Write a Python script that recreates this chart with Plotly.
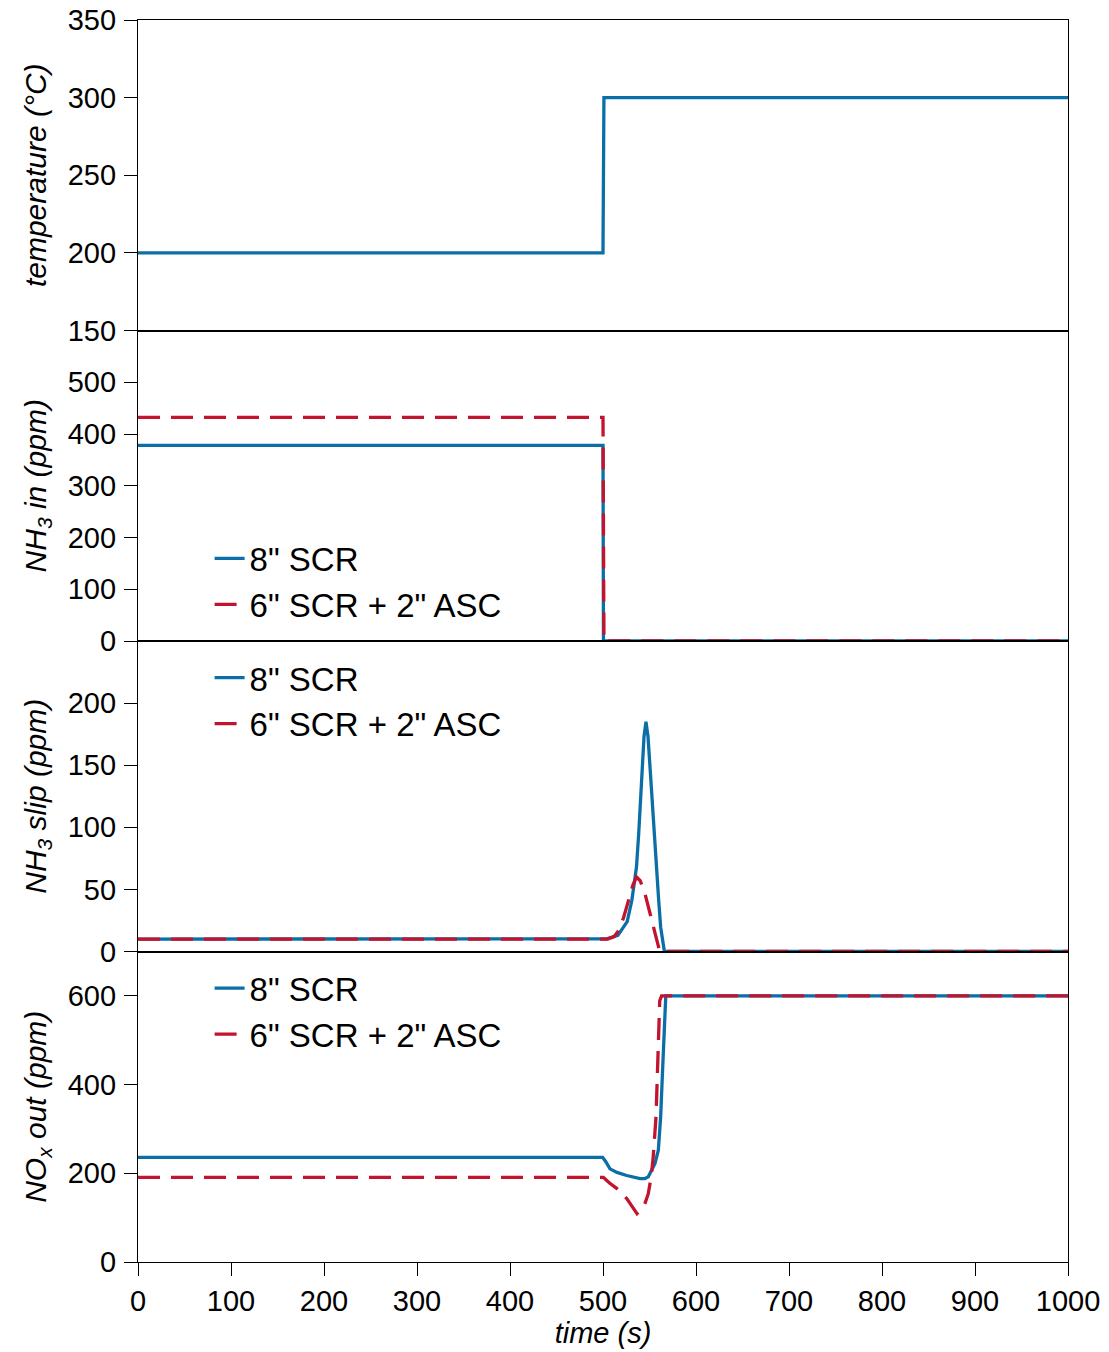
import plotly.graph_objects as go
from plotly.subplots import make_subplots

# ---------------- data ----------------
time_temp = [0, 500, 501, 1000]
temp_scr = [200, 200, 300, 300]

time_nh3in_scr = [0, 500, 500.5, 1000]
nh3in_scr = [378, 378, 0, 0]
time_nh3in_asc = [0, 500, 501, 1000]
nh3in_asc = [432, 432, 0, 0]

time_slip_scr = [0, 500, 504, 516, 522, 526, 531, 533.3, 536, 538.4, 540.5, 542.3, 544.1, 546.2,
                 548.4, 550.5, 552.7, 555.6, 557.7, 559.9, 562, 565, 566, 1000]
slip_scr = [10, 10, 10.2, 13, 19, 24, 41, 55, 68, 95, 122, 149, 173, 185,
            173, 149, 122, 95, 68, 41, 19.6, 2, 0, 0]
time_slip_asc = [0, 505, 512, 517, 522, 527, 532, 536, 540, 545, 550.5, 554, 557.7, 561, 1000]
slip_asc = [10, 10, 12, 17, 27, 41, 53, 60, 57, 47, 30, 20, 9, 0, 0]

time_nox_scr = [0, 499.6, 503, 507.5, 515, 525.5, 539.8, 545, 548.7, 552, 555.9, 559.5, 562,
                564.2, 566, 567.5, 1000]
nox_scr = [236, 236, 226, 210, 202, 195, 188, 188, 192, 205, 222, 252, 327, 439, 551, 600, 600]
time_nox_asc = [0, 500.4, 507, 514.7, 525.5, 536.6, 544, 548.7, 552, 554, 557, 559.5, 561, 563, 1000]
nox_asc = [191, 191, 178, 166, 143, 109, 125, 154, 195, 237, 327, 476, 589, 600, 600]

x_ticks = [0, 100, 200, 300, 400, 500, 600, 700, 800, 900, 1000]
temp_ticks = [150, 200, 250, 300, 350]
nh3in_ticks = [0, 100, 200, 300, 400, 500]
slip_ticks = [0, 50, 100, 150, 200]
nox_ticks = [0, 200, 400, 600]

name_scr = '8" SCR'
name_asc = '6" SCR + 2" ASC'

# ---------------- style ----------------
BLUE = "#0a6fa6"
RED = "#c2132f"
FONT = "Liberation Sans, Arial, Helvetica, sans-serif"
LW = 3.3
DASH = "22px,11px"

fig = make_subplots(rows=4, cols=1, shared_xaxes=True, vertical_spacing=0)

fig.add_trace(go.Scatter(x=time_temp, y=temp_scr, mode="lines", name=name_scr,
                         line=dict(color=BLUE, width=LW), showlegend=False), row=1, col=1)

fig.add_trace(go.Scatter(x=time_nh3in_scr, y=nh3in_scr, mode="lines", name=name_scr,
                         line=dict(color=BLUE, width=LW), legend="legend"), row=2, col=1)
fig.add_trace(go.Scatter(x=time_nh3in_asc, y=nh3in_asc, mode="lines", name=name_asc,
                         line=dict(color=RED, width=LW, dash=DASH), legend="legend"), row=2, col=1)

fig.add_trace(go.Scatter(x=time_slip_scr, y=slip_scr, mode="lines", name=name_scr,
                         line=dict(color=BLUE, width=LW), legend="legend2"), row=3, col=1)
fig.add_trace(go.Scatter(x=time_slip_asc, y=slip_asc, mode="lines", name=name_asc,
                         line=dict(color=RED, width=LW, dash=DASH), legend="legend2"), row=3, col=1)

fig.add_trace(go.Scatter(x=time_nox_scr, y=nox_scr, mode="lines", name=name_scr,
                         line=dict(color=BLUE, width=LW), legend="legend3"), row=4, col=1)
fig.add_trace(go.Scatter(x=time_nox_asc, y=nox_asc, mode="lines", name=name_asc,
                         line=dict(color=RED, width=LW, dash=DASH), legend="legend3"), row=4, col=1)

axis_common = dict(showline=True, linecolor="black", linewidth=1.2, mirror=True,
                   showgrid=False, zeroline=False, automargin=False,
                   ticklabeloverflow="allow",
                   tickfont=dict(family=FONT, size=29, color="black"))

for r in range(1, 5):
    fig.update_xaxes(range=[0, 1000], tickvals=x_ticks, row=r, col=1, **axis_common)
    if r < 4:
        fig.update_xaxes(ticks="", showticklabels=False, row=r, col=1)
fig.update_xaxes(ticks="outside", ticklen=13, tickwidth=1.2, tickcolor="black",
                 showticklabels=True,
                 title=dict(text="<i>time (s)</i>", font=dict(family=FONT, size=29, color="black"),
                            standoff=6),
                 row=4, col=1)

ytitle_font = dict(family=FONT, size=30, color="black")
yspecs = [
    (1, [150, 350], temp_ticks, "<i>temperature (°C)</i>"),
    (2, [0, 600], nh3in_ticks, "<i>NH<sub>3</sub> in (ppm)</i>"),
    (3, [0, 250], slip_ticks, "<i>NH<sub>3</sub> slip (ppm)</i>"),
    (4, [0, 700], nox_ticks, "<i>NO<sub>x</sub> out (ppm)</i>"),
]
for r, rng, tv, title in yspecs:
    fig.update_yaxes(range=rng, tickvals=tv, ticks="outside", ticklen=13, tickwidth=1.2,
                     tickcolor="black", ticklabelstandoff=2,
                     title=dict(text=title, font=ytitle_font, standoff=12),
                     row=r, col=1, **axis_common)

legend_common = dict(font=dict(family=FONT, size=33, color="black"), bgcolor="rgba(0,0,0,0)",
                     xanchor="left", yanchor="top", tracegroupgap=0, itemwidth=30)
fig.update_layout(
    width=1109, height=1352,
    margin=dict(l=138, r=41, t=20, b=90),
    plot_bgcolor="white", paper_bgcolor="white",
    font=dict(family=FONT, color="black"),
    legend=dict(x=0.077, y=0.589, **legend_common),
    legend2=dict(x=0.077, y=0.493, **legend_common),
    legend3=dict(x=0.077, y=0.243, **legend_common),
)

fig.write_html("out.html", config={"displayModeBar": False},
               post_script="document.body.style.margin='0';")
